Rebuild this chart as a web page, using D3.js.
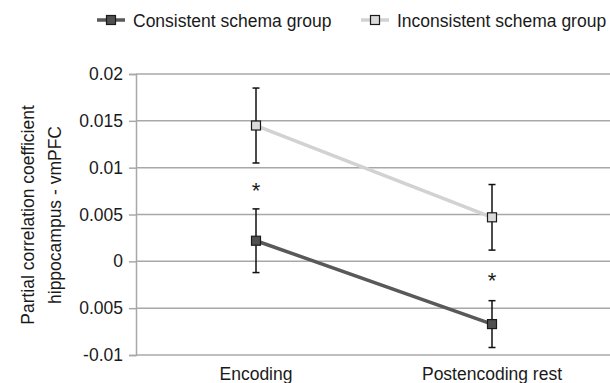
<!DOCTYPE html>
<html>
<head>
<meta charset="utf-8">
<script src="https://cdn.jsdelivr.net/npm/d3@7"></script>
<style>
  body { margin: 0; background: #fff; }
  text { font-family: "Liberation Sans", Arial, sans-serif; fill: #1a1a1a; }
</style>
</head>
<body>
<div id="chart"></div>
<script>
// data
const phases = ["Encoding", "Postencoding rest"];
const consistent = [0.0022, -0.0067];
const consistentErr = [0.0034, 0.0025];
const inconsistent = [0.0145, 0.0047];
const inconsistentErr = [0.004, 0.0035];
const starLevels = [0.008, -0.0016];
const yTicks = [0.02, 0.015, 0.01, 0.005, 0, -0.005, -0.01];
const yTickLabels = ["0.02", "0.015", "0.01", "0.005", "0", "0.005", "-0.01"];

const W = 610, H = 383;
const fontSize = 17.5;
const svg = d3.select("#chart").append("svg")
    .attr("width", W)
    .attr("height", H);

const x = d3.scaleBand().domain(phases).range([138, 610]);
const y = d3.scaleLinear().domain([-0.01, 0.02]).range([355, 74]);
const cx = d => x(d) + x.bandwidth() / 2;

// gridlines
svg.append("g").selectAll("line")
    .data(yTicks)
    .join("line")
    .attr("x1", 136).attr("x2", W)
    .attr("y1", d => y(d)).attr("y2", d => y(d))
    .attr("stroke", "#a8a8a8")
    .attr("stroke-width", 1.5);

// y axis
const yAxis = svg.append("g")
    .attr("transform", "translate(136,0)")
    .call(d3.axisLeft(y).tickValues(yTicks).tickSize(7).tickPadding(6)
        .tickFormat((d, i) => yTickLabels[i]));
yAxis.select(".domain").attr("stroke", "#a8a8a8").attr("stroke-width", 1.5);
yAxis.selectAll(".tick line").attr("stroke", "#a8a8a8").attr("stroke-width", 1.5);
yAxis.selectAll(".tick text")
    .attr("font-size", fontSize)
    .attr("font-family", "Liberation Sans, Arial, sans-serif")
    .attr("fill", "#1a1a1a");

// y title
const title = svg.append("text")
    .attr("transform", "translate(0,215) rotate(-90)")
    .attr("text-anchor", "middle")
    .attr("font-size", fontSize);
title.append("tspan").attr("x", 0).attr("y", 34).text("Partial correlation coefficient");
title.append("tspan").attr("x", 0).attr("y", 61).text("hippocampus - vmPFC");

// x labels
svg.append("g").selectAll("text")
    .data(phases)
    .join("text")
    .attr("x", d => cx(d))
    .attr("y", 380)
    .attr("text-anchor", "middle")
    .attr("font-size", fontSize)
    .text(d => d);

const series = [
    { name: "Consistent schema group", vals: consistent, err: consistentErr, line: "#595959", fill: "#505050" },
    { name: "Inconsistent schema group", vals: inconsistent, err: inconsistentErr, line: "#d2d2d2", fill: "#dadada" }
];

const line = d3.line().x((d, i) => cx(phases[i])).y(d => y(d));

// lines first, inconsistent under consistent
series.slice().reverse().forEach(s => {
    svg.append("path")
        .datum(s.vals)
        .attr("d", line)
        .attr("fill", "none")
        .attr("stroke", s.line)
        .attr("stroke-width", 3.5);
});

// error bars and markers
series.forEach(s => {
    const g = svg.append("g");
    s.vals.forEach((v, i) => {
        const px = cx(phases[i]);
        const top = y(v + s.err[i]), bot = y(v - s.err[i]);
        g.append("line").attr("x1", px).attr("x2", px).attr("y1", top).attr("y2", bot)
            .attr("stroke", "#111").attr("stroke-width", 1.5);
        [top, bot].forEach(yy => {
            g.append("line").attr("x1", px - 3.5).attr("x2", px + 3.5).attr("y1", yy).attr("y2", yy)
                .attr("stroke", "#111").attr("stroke-width", 1.5);
        });
        g.append("rect")
            .attr("x", px - 4.5).attr("y", y(v) - 4.5)
            .attr("width", 9).attr("height", 9)
            .attr("fill", s.fill)
            .attr("stroke", "#1a1a1a")
            .attr("stroke-width", 1.2);
    });
});

// significance stars
svg.append("g").selectAll("text")
    .data(starLevels)
    .join("text")
    .attr("x", (d, i) => cx(phases[i]))
    .attr("y", d => y(d) + 12)
    .attr("text-anchor", "middle")
    .attr("font-size", 22)
    .text("*");

// legend
const legendX = [97, 361];
const legend = svg.append("g");
series.forEach((s, i) => {
    const lx = legendX[i];
    legend.append("line")
        .attr("x1", lx).attr("x2", lx + 28).attr("y1", 20).attr("y2", 20)
        .attr("stroke", s.line).attr("stroke-width", 3.5);
    legend.append("rect")
        .attr("x", lx + 14 - 4.5).attr("y", 20 - 4.5)
        .attr("width", 9).attr("height", 9)
        .attr("fill", s.fill).attr("stroke", "#1a1a1a").attr("stroke-width", 1.2);
    legend.append("text")
        .attr("x", lx + 36).attr("y", 27)
        .attr("font-size", fontSize)
        .text(s.name);
});
</script>
</body>
</html>
